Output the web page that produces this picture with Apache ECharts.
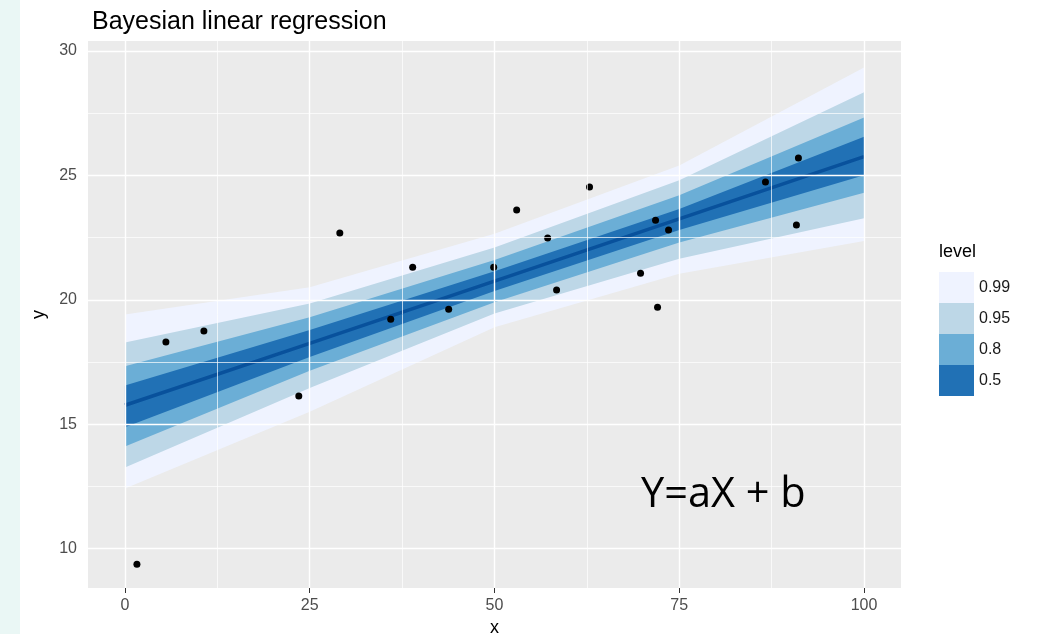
<!DOCTYPE html>
<html>
<head>
<meta charset="utf-8">
<title>Bayesian linear regression</title>
<script src="https://cdn.jsdelivr.net/npm/echarts@6/dist/echarts.min.js"></script>
<style>
  html, body { margin: 0; padding: 0; background: #fff; }
  #chart { width: 1038px; height: 634px; }
</style>
</head>
<body>
<div id="chart"></div>
<script>
// values
var bandX = [0, 25, 50, 75, 100];
var median = [15.76, 18.25, 20.75, 23.25, 25.75];
var lo50 = [14.88, 17.70, 20.35, 22.80, 25.00];
var hi50 = [16.55, 18.78, 21.15, 23.65, 26.55];
var lo80 = [14.10, 17.15, 19.90, 22.30, 24.30];
var hi80 = [17.33, 19.30, 21.60, 24.20, 27.33];
var lo95 = [13.26, 16.45, 19.45, 21.65, 23.28];
var hi95 = [18.28, 19.85, 22.10, 24.80, 28.34];
var lo99 = [12.41, 15.50, 18.90, 21.05, 22.36];
var hi99 = [19.41, 20.50, 22.65, 25.40, 29.33];

var pointX = [1.62, 5.54, 10.68, 23.52, 29.07, 35.96, 38.93, 43.80, 49.89, 53.00,
  57.19, 58.40, 62.86, 69.76, 71.79, 72.06, 73.55, 86.66, 90.85, 91.12];
var pointY = [9.37, 18.30, 18.74, 16.13, 22.68, 19.22, 21.31, 19.62, 21.31, 23.61,
  22.48, 20.39, 24.53, 21.07, 23.20, 19.70, 22.80, 24.73, 23.00, 25.70];

var levels = ['0.99', '0.95', '0.8', '0.5'];
var levelColors = ['#eff3ff', '#bdd7e7', '#6baed6', '#2171b5'];

var xTicks = [0, 25, 50, 75, 100];
var xMinor = [12.5, 37.5, 62.5, 87.5];
var yTicks = [10, 15, 20, 25, 30];
var yMinor = [12.5, 17.5, 22.5, 27.5];

function pairs(xs, ys) {
  return xs.map(function (x, i) { return [x, ys[i]]; });
}

function band(name, lo, hi, color) {
  return {
    name: name,
    type: 'custom',
    z: 2,
    silent: true,
    itemStyle: { color: color },
    data: [[50, 20]],
    renderItem: function (params, api) {
      var pts = [];
      for (var i = 0; i < bandX.length; i++) pts.push(api.coord([bandX[i], hi[i]]));
      for (var j = bandX.length - 1; j >= 0; j--) pts.push(api.coord([bandX[j], lo[j]]));
      return { type: 'polygon', shape: { points: pts }, style: { fill: color } };
    }
  };
}

function gridLines() {
  var d = [];
  xTicks.forEach(function (v) { d.push({ xAxis: v, lineStyle: { width: 1.4 } }); });
  xMinor.forEach(function (v) { d.push({ xAxis: v, lineStyle: { width: 0.7 } }); });
  yTicks.forEach(function (v) { d.push({ yAxis: v, lineStyle: { width: 1.4 } }); });
  yMinor.forEach(function (v) { d.push({ yAxis: v, lineStyle: { width: 0.7 } }); });
  return d;
}

var myChart = echarts.init(document.getElementById('chart'));
var fontFamily = '"Liberation Sans", Arial, sans-serif';

var option = {
  animation: false,
  textStyle: { fontFamily: fontFamily },
  title: [
    {
      text: 'Bayesian linear regression',
      left: 87,
      top: 5,
      textStyle: { fontSize: 25, fontWeight: 'normal', color: '#000', fontFamily: fontFamily }
    },
    {
      text: 'level',
      left: 934,
      top: 238,
      textStyle: { fontSize: 18, fontWeight: 'normal', color: '#000', fontFamily: fontFamily }
    }
  ],
  legend: {
    orient: 'vertical',
    left: 934,
    top: 267,
    itemWidth: 35,
    itemHeight: 31,
    itemGap: 0,
    icon: 'rect',
    selectedMode: false,
    data: levels,
    textStyle: { fontSize: 16, color: '#1a1a1a' }
  },
  graphic: [
    {
      type: 'rect',
      left: 0,
      top: 0,
      shape: { width: 20, height: 634 },
      style: { fill: '#eaf7f5' }
    },
    {
      type: 'text',
      left: 641,
      top: 474,
      z: 10,
      style: { text: 'Y=aX + b', fontSize: 41.5, fill: '#000', fontFamily: '"Open Sans", "Noto Sans", sans-serif' }
    }
  ],
  grid: {
    left: 88,
    top: 41,
    width: 813,
    height: 547,
    outerBoundsMode: 'none',
    containLabel: false,
    show: true,
    backgroundColor: '#ebebeb',
    borderWidth: 0
  },
  xAxis: {
    type: 'value',
    min: -5,
    max: 105,
    name: 'x',
    nameLocation: 'middle',
    nameGap: 30,
    nameTextStyle: { fontSize: 18, color: '#000' },
    axisLine: { show: false },
    axisTick: { show: true, length: 5, customValues: xTicks, lineStyle: { color: '#333' } },
    axisLabel: { customValues: xTicks, fontSize: 16, color: '#4d4d4d', margin: 10 },
    splitLine: { show: false }
  },
  yAxis: {
    type: 'value',
    min: 8.415,
    max: 30.4,
    name: 'y',
    nameLocation: 'middle',
    nameGap: 38,
    nameRotate: 90,
    nameTextStyle: { fontSize: 18, color: '#000' },
    axisLine: { show: false },
    axisTick: { show: true, length: 5, customValues: yTicks, lineStyle: { color: '#333' } },
    axisLabel: { customValues: yTicks, fontSize: 16, color: '#4d4d4d', margin: 11 },
    splitLine: { show: false }
  },
  series: [
    {
      name: 'grid',
      type: 'scatter',
      z: 1,
      silent: true,
      data: [],
      markLine: {
        silent: true,
        symbol: ['none', 'none'],
        label: { show: false },
        lineStyle: { color: '#ffffff', type: 'solid' },
        data: gridLines()
      }
    },
    band(levels[0], lo99, hi99, levelColors[0]),
    band(levels[1], lo95, hi95, levelColors[1]),
    band(levels[2], lo80, hi80, levelColors[2]),
    band(levels[3], lo50, hi50, levelColors[3]),
    {
      name: 'median',
      type: 'line',
      z: 3,
      showSymbol: false,
      silent: true,
      data: pairs(bandX, median),
      lineStyle: { color: '#08519c', width: 3.5 }
    },
    {
      name: 'points',
      type: 'scatter',
      z: 4,
      symbolSize: 7,
      itemStyle: { color: '#000', opacity: 1 },
      data: pairs(pointX, pointY)
    }
  ]
};

myChart.setOption(option);
</script>
</body>
</html>
